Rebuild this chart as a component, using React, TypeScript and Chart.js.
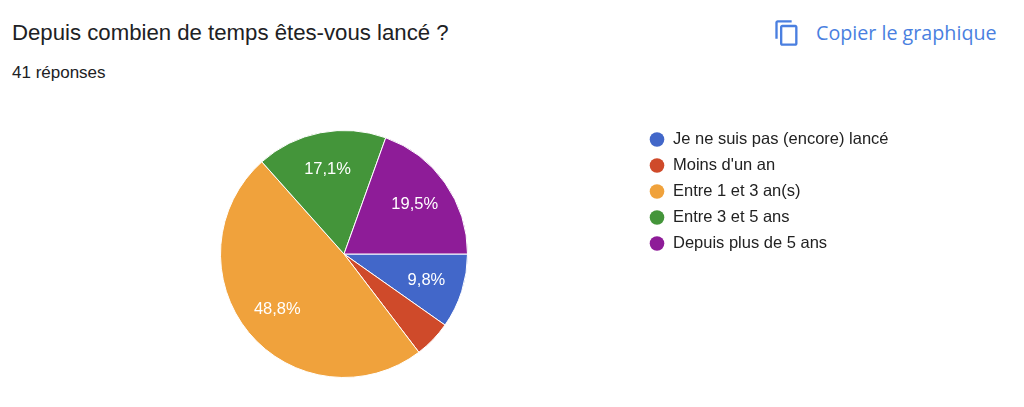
import React, { useEffect, useRef } from "react";
import Chart from "chart.js/auto";

const categories = [
  "Je ne suis pas (encore) lancé",
  "Moins d'un an",
  "Entre 1 et 3 an(s)",
  "Entre 3 et 5 ans",
  "Depuis plus de 5 ans",
];
const counts = [4, 2, 20, 7, 8];
const sliceLabels = ["9,8%", "", "48,8%", "17,1%", "19,5%"];
const colors = ["#4267c9", "#cf4a2a", "#f0a23c", "#44953a", "#8e1c98"];

const App = () => {
  const chartRef = useRef<HTMLCanvasElement>(null);

  useEffect(() => {
    document.body.style.margin = "0";
    const ctx = chartRef.current?.getContext("2d");
    if (!ctx) return;

    const labelPlugin = {
      id: "sliceLabels",
      afterDatasetsDraw(chart: any) {
        const c = chart.ctx;
        const meta = chart.getDatasetMeta(0);
        c.save();
        c.fillStyle = "#ffffff";
        c.font = "16.5px 'Liberation Sans', Arial, sans-serif";
        c.textAlign = "center";
        c.textBaseline = "middle";
        meta.data.forEach((arc: any, i: number) => {
          if (!sliceLabels[i]) return;
          const mid = (arc.startAngle + arc.endAngle) / 2;
          const r = arc.outerRadius * 0.7;
          c.fillText(sliceLabels[i], arc.x + Math.cos(mid) * r, arc.y + Math.sin(mid) * r);
        });
        c.restore();
      },
    };

    const legendPlugin = {
      id: "sideLegend",
      afterDraw(chart: any) {
        const c = chart.ctx;
        c.save();
        c.font = "16.5px 'Liberation Sans', Arial, sans-serif";
        c.textBaseline = "middle";
        chart.data.labels.forEach((label: string, i: number) => {
          const y = 139.5 + i * 26;
          c.fillStyle = colors[i];
          c.beginPath();
          c.arc(657, y, 7.3, 0, Math.PI * 2);
          c.fill();
          c.fillStyle = "#222222";
          c.fillText(label, 673, y);
        });
        c.restore();
      },
    };

    const chartInstance = new Chart(ctx, {
      type: "pie",
      data: {
        labels: categories,
        datasets: [
          {
            data: counts,
            backgroundColor: colors,
            borderColor: "#ffffff",
            borderWidth: 1,
          },
        ],
      },
      options: {
        animation: false,
        responsive: false,
        rotation: 90,
        layout: {
          padding: { left: 220, right: 556, top: 130, bottom: 29 },
        },
        plugins: {
          legend: { display: false },
          tooltip: { enabled: false },
        },
      },
      plugins: [labelPlugin, legendPlugin],
    });

    return () => {
      chartInstance.destroy();
    };
  }, []);

  return (
    <div
      style={{
        position: "relative",
        width: 1024,
        height: 407,
        background: "#ffffff",
        overflow: "hidden",
        fontFamily: "'Liberation Sans', Arial, sans-serif",
      }}
    >
      <div
        style={{
          position: "absolute",
          left: 12,
          top: 20,
          fontSize: 22.2,
          color: "#202124",
          whiteSpace: "nowrap",
        }}
      >
        Depuis combien de temps êtes-vous lancé ?
      </div>
      <div
        style={{
          position: "absolute",
          left: 12,
          top: 63,
          fontSize: 17,
          color: "#202124",
          whiteSpace: "nowrap",
        }}
      >
        41 réponses
      </div>
      <svg
        style={{ position: "absolute", left: 773, top: 18 }}
        width="28"
        height="30"
        viewBox="0 0 24 24"
      >
        <path
          fill="#4a7fe0"
          d="M16 1H4c-1.1 0-2 .9-2 2v14h2V3h12V1zm3 4H8c-1.1 0-2 .9-2 2v14c0 1.1.9 2 2 2h11c1.1 0 2-.9 2-2V7c0-1.1-.9-2-2-2zm0 16H8V7h11v14z"
        />
      </svg>
      <div
        style={{
          position: "absolute",
          left: 816,
          top: 19,
          fontSize: 19.7,
          fontFamily: "'Open Sans', sans-serif",
          color: "#4a7fe0",
          whiteSpace: "nowrap",
        }}
      >
        Copier le graphique
      </div>
      <canvas
        ref={chartRef}
        width={1024}
        height={407}
        style={{ position: "absolute", left: 0, top: 0 }}
      />
    </div>
  );
};

export default App;
